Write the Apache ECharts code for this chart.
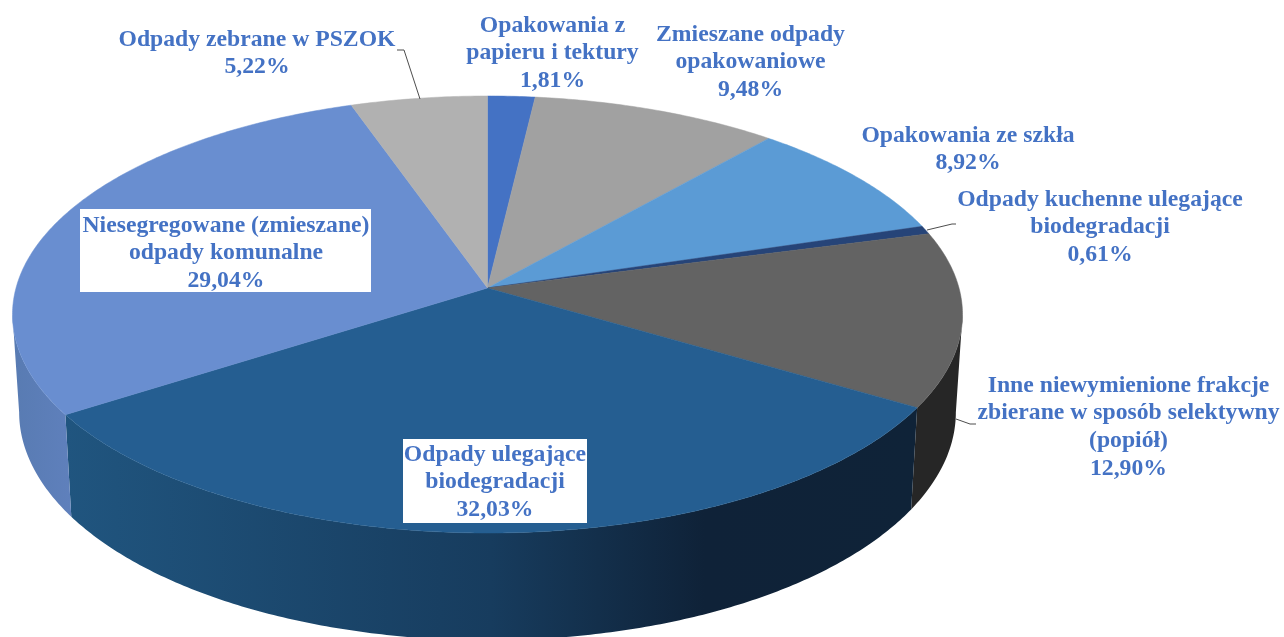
<!DOCTYPE html>
<html>
<head>
<meta charset="utf-8">
<title>Odpady komunalne</title>
<style>
  html,body{margin:0;padding:0;background:#fff;overflow:hidden;}
  #chart{width:1284px;height:637px;}
</style>
<script src="https://cdn.jsdelivr.net/npm/echarts@6/dist/echarts.min.js"></script>
</head>
<body>
<div id="chart"></div>
<script>
// ── Data (clockwise from 12 o'clock) ──────────────────────────────────────
const categories = [
  'Opakowania z\npapieru i tektury',
  'Zmieszane odpady\nopakowaniowe',
  'Opakowania ze szkła',
  'Odpady kuchenne ulegające\nbiodegradacji',
  'Inne niewymienione frakcje\nzbierane w sposób selektywny\n(popiół)',
  'Odpady ulegające\nbiodegradacji',
  'Niesegregowane (zmieszane)\nodpady komunalne',
  'Odpady zebrane w PSZOK'
];
const shares = [1.81, 9.48, 8.92, 0.61, 12.90, 32.03, 29.04, 5.22];

// ── Look ──────────────────────────────────────────────────────────────────
const topColors = ['#4472c4', '#a1a1a1', '#5b9bd5', '#264478', '#636363', '#255e91', '#698ed0', '#b1b1b1'];
const wallStops = {
  4: [[0, '#262626'], [1, '#262626']],
  5: [[0, '#20557f'], [0.5, '#173c5e'], [0.75, '#0f2238'], [1, '#0f2338']],
  6: [[0, '#587bb2'], [1, '#5f80bc']]
};

// label centre x, first line centre y (px)
const labelAnchors = [[552.5, 25.5], [750.5, 34.5], [968, 135.5], [1100, 199.5], [1128.5, 385.5], [495, 454.5], [226, 225.5], [257, 39.5]];
// white boxes behind the two labels that sit on the pie: [x, y, w, h]
const labelBoxes = { 5: [403, 439, 184, 84], 6: [80, 209, 291, 83] };
const LINE_H = 27.8;
const leaders = [
  [[397, 50], [404, 50], [420, 99]],
  [[956, 224], [952, 224], [927, 230]],
  [[976, 424], [970, 424], [956, 419]]
];

// Perspective of the disc: k tilts the near edge towards the viewer
const K = 0.1213;
const WALL_SHRINK = 0.986; // bottom rim is a little narrower
const FRONT_FROM = Math.acos(-K); // angle where the rim turns to face the viewer

function rim(theta) {
  const u = Math.sin(theta), v = -Math.cos(theta), w = 1 - K * v;
  return [u / w, v / w];
}

// wall height in disc units, slightly taller towards the viewer
function wallDrop(py) {
  return 0.448 + 0.044 * py;
}

function arcPoints(a0, a1) {
  const n = Math.max(2, Math.ceil((a1 - a0) / 0.01));
  const pts = [];
  for (let i = 0; i <= n; i++) pts.push(rim(a0 + (a1 - a0) * i / n));
  return pts;
}

// cumulative slice angles
const total = shares.reduce((a, b) => a + b, 0);
const sliceAngles = [];
shares.reduce((acc, s) => {
  const next = acc + s;
  sliceAngles.push([acc / total * 2 * Math.PI, next / total * 2 * Math.PI]);
  return next;
}, 0);

function renderWall(params, api) {
  const i = params.dataIndex;
  const a0 = Math.max(sliceAngles[i][0], FRONT_FROM);
  const a1 = Math.min(sliceAngles[i][1], 2 * Math.PI - FRONT_FROM);
  if (a1 <= a0 || !wallStops[i]) return null;
  const upper = arcPoints(a0, a1);
  const lower = upper.map(p => [p[0] * WALL_SHRINK, p[1] + wallDrop(p[1])]).reverse();
  const points = upper.concat(lower).map(p => api.coord(p));
  const xs = points.map(p => p[0]);
  const stops = wallStops[i].map(s => ({ offset: s[0], color: s[1] }));
  return {
    type: 'polygon',
    shape: { points },
    style: {
      fill: new echarts.graphic.LinearGradient(Math.min(...xs), 0, Math.max(...xs), 0, stops, true)
    }
  };
}

function renderTop(params, api) {
  const i = params.dataIndex;
  const pts = [[0, 0]].concat(arcPoints(sliceAngles[i][0], sliceAngles[i][1]));
  return {
    type: 'polygon',
    shape: { points: pts.map(p => api.coord(p)) },
    style: { fill: topColors[i], stroke: topColors[i], lineWidth: 0.5 }
  };
}

function percentText(v) {
  return v.toFixed(2).replace('.', ',') + '%';
}

function renderLabel(params) {
  const i = params.dataIndex;
  const lines = categories[i].split('\n').concat(percentText(shares[i]));
  const children = [];
  if (labelBoxes[i]) {
    const b = labelBoxes[i];
    children.push({ type: 'rect', shape: { x: b[0], y: b[1], width: b[2], height: b[3] }, style: { fill: '#fff' } });
  }
  lines.forEach((line, n) => {
    children.push({
      type: 'text',
      x: labelAnchors[i][0],
      y: labelAnchors[i][1] + n * LINE_H,
      style: {
        text: line,
        font: 'bold 23.7px "Liberation Serif"',
        fill: '#4472c4',
        align: 'center',
        verticalAlign: 'middle'
      }
    });
  });
  return { type: 'group', children };
}

function renderLeader(params) {
  return {
    type: 'polyline',
    shape: { points: leaders[params.dataIndex] },
    style: { stroke: '#4d4d4d', lineWidth: 1, fill: null }
  };
}

const chart = echarts.init(document.getElementById('chart'), null, { renderer: 'canvas' });
const rows = shares.map((s, i) => [i, s]);

chart.setOption({
  animation: false,
  backgroundColor: '#fff',
  // axes span the disc: -1..1 in both directions
  grid: { left: 16, top: 72.7, width: 943, height: 430.6 },
  xAxis: { type: 'value', min: -1, max: 1, show: false },
  yAxis: { type: 'value', min: -1, max: 1, inverse: true, show: false },
  series: [
    { type: 'custom', coordinateSystem: 'cartesian2d', clip: false, z: 1, renderItem: renderWall, data: rows, silent: true },
    { type: 'custom', coordinateSystem: 'cartesian2d', clip: false, z: 2, renderItem: renderTop, data: rows, silent: true },
    { type: 'custom', coordinateSystem: 'cartesian2d', clip: false, z: 3, renderItem: renderLeader, data: leaders.map((l, i) => [i, i]), silent: true },
    { type: 'custom', coordinateSystem: 'cartesian2d', clip: false, z: 4, renderItem: renderLabel, data: rows, silent: true }
  ]
});
</script>
</body>
</html>
